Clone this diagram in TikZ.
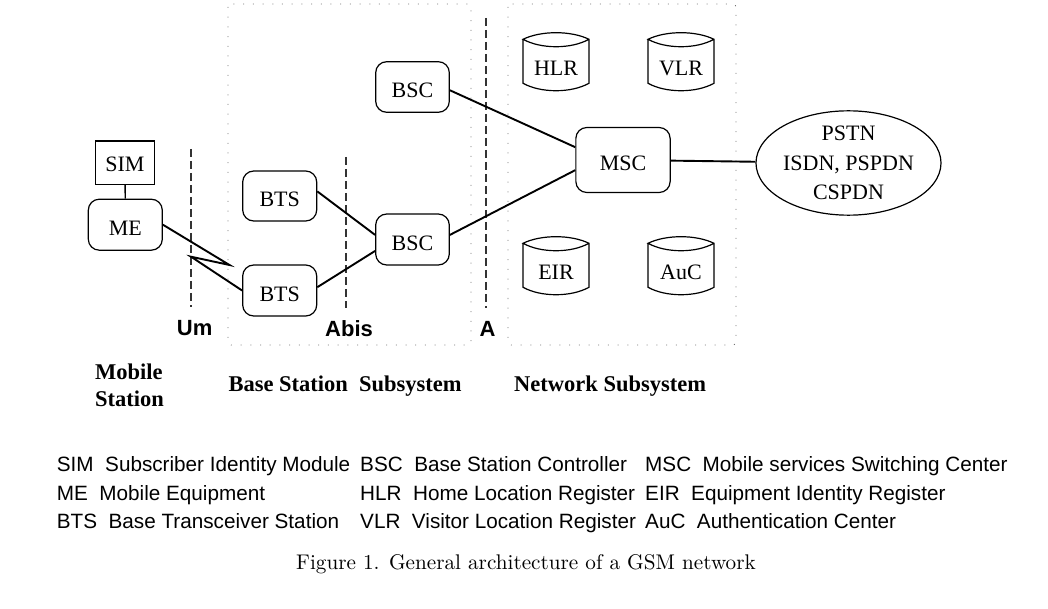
\documentclass[tikz,border=0pt]{standalone}
\usepackage{fontspec}
\setmainfont{Liberation Serif}
\setsansfont{Liberation Sans}
\newfontfamily\capfont{lmroman10-regular.otf}
\usetikzlibrary{shapes.geometric}
\tikzset{
  unit/.style={draw, line width=1.2pt, rounded corners=11pt, inner sep=0pt,
    font=\fontsize{22}{26}\selectfont, text height=21.5pt, text depth=0pt},
  simbox/.style={draw, line width=1.2pt, inner sep=0pt,
    font=\fontsize{22}{26}\selectfont, text height=18pt, text depth=0pt},
  cyltext/.style={inner sep=0pt, font=\fontsize{22}{26}\selectfont},
  cylline/.style={line width=1.2pt},
  link/.style={line width=1.9pt},
  iface/.style={line width=1.2pt, dash pattern=on 8pt off 4pt, draw=black!80},
  subsys/.style={draw=black!55, line width=0.9pt, dash pattern=on 1pt off 8.7pt, rounded corners=3pt},
  ifacelabel/.style={font=\sffamily\bfseries\fontsize{22}{26}\selectfont, anchor=base west, inner sep=0pt},
  grouplabel/.style={font=\bfseries\fontsize{22.5}{27}\selectfont, anchor=base west, inner sep=0pt},
  legend/.style={font=\sffamily\fontsize{20.7}{24}\selectfont, anchor=base west, inner sep=0pt},
}
\newcommand\dbcyl[4]{%
  \node[cyltext] (#1) at (#2,#3) {#4};
  \draw[cylline] ([shift={(-33,-29)}]#1.center) -- ([shift={(-33,15)}]#1.center)
    .. controls ([shift={(-15,24.9)}]#1.center) and ([shift={(15,24.9)}]#1.center) .. ([shift={(33,15)}]#1.center)
    -- ([shift={(33,-29)}]#1.center)
    .. controls ([shift={(15,-37.8)}]#1.center) and ([shift={(-15,-37.8)}]#1.center) .. ([shift={(-33,-29)}]#1.center)
    .. controls ([shift={(-15,-19.1)}]#1.center) and ([shift={(15,-19.1)}]#1.center) .. ([shift={(33,-29)}]#1.center);
}
\begin{document}
\begin{tikzpicture}[x=1pt,y=-1pt]
\useasboundingbox (0,0) rectangle (1048,609);

% subsystem frames
\draw[subsys] (228,4) rectangle (471,345);
\draw[subsys] (508,4) rectangle (736,345);

% interface lines
\draw[iface] (191,149) -- (191,307);
\draw[iface] (346,157) -- (346,308);
\draw[iface] (486,18) -- (486,308);

% nodes
\node[simbox, minimum width=58.6pt, minimum height=43.3pt] (sim) at (125,162.7) {SIM};
\node[unit, minimum width=74pt, minimum height=51pt] (me) at (125.3,224.7) {ME};
\node[unit, minimum width=74pt, minimum height=50pt] (bts1) at (279.7,196) {BTS};
\node[unit, minimum width=74pt, minimum height=51pt] (bts2) at (279.7,290.5) {BTS};
\node[unit, minimum width=73.6pt, minimum height=50.6pt] (bsc1) at (412.5,87) {BSC};
\node[unit, minimum width=73.6pt, minimum height=51pt] (bsc2) at (412.5,239.5) {BSC};
\node[unit, minimum width=94.3pt, minimum height=65pt] (msc) at (623,160) {MSC};
\node[draw, ellipse, line width=1.2pt, inner sep=0pt, minimum width=181pt, minimum height=100pt,
  align=center, font=\fontsize{22}{29.5}\selectfont] (pstn) at (848.5,163) {PSTN\\ISDN, PSPDN\\CSPDN};

\dbcyl{hlr}{556}{68.3}{HLR}
\dbcyl{vlr}{681}{68.3}{VLR}
\dbcyl{eir}{556}{272.3}{EIR}
\dbcyl{auc}{681}{272.3}{AuC}

% connectors
\coordinate (z1) at (229.5,265);
\coordinate (z2) at (191,256.7);
\draw[line width=1.3pt] (sim) -- (me);
\draw[link] (me.east) -- (z1) -- (z2) -- (bts2.west);
\draw[link] (bts1.7) -- (bsc2.173);
\draw[link] (bts2.5) -- (bsc2.197);
\draw[link] (bsc1.355) -- (msc.165);
\draw[link] (bsc2.7) -- (msc.192);
\draw[link] (msc) -- (pstn);

% interface labels
\node[ifacelabel] (um) at (176.7,335.7) {Um};
\node[ifacelabel] (abis) at (325,336.7) {Abis};
\node[ifacelabel] (alabel) at (479.3,336.7) {A};

% group labels
\node[grouplabel] (ms1) at (95,379) {Mobile};
\node[grouplabel] (ms2) at (95,406.7) {Station};
\node[grouplabel] (bss) at (228.3,391.7) {Base Station~~Subsystem};
\node[grouplabel] (nss) at (514,391.7) {Network Subsystem};

% legend
\node[legend] (l1) at (56.7,471.7) {SIM~~Subscriber Identity Module};
\node[legend] (l2) at (360,471.7) {BSC~~Base Station Controller};
\node[legend] (l3) at (645,471.7) {MSC~~Mobile services Switching Center};
\node[legend] (l4) at (56.7,500) {ME~~Mobile Equipment};
\node[legend] (l5) at (360,500) {HLR~~Home Location Register};
\node[legend] (l6) at (645,500) {EIR~~Equipment Identity Register};
\node[legend] (l7) at (56.7,528.3) {BTS~~Base Transceiver Station};
\node[legend] (l8) at (360,528.3) {VLR~~Visitor Location Register};
\node[legend] (l9) at (645,528.3) {AuC~~Authentication Center};

% caption
\node[font=\capfont\fontsize{21.2}{25}\selectfont, anchor=base, inner sep=0pt] (caption) at (526,569)
  {Figure 1. General architecture of a GSM network};
\end{tikzpicture}
\end{document}
